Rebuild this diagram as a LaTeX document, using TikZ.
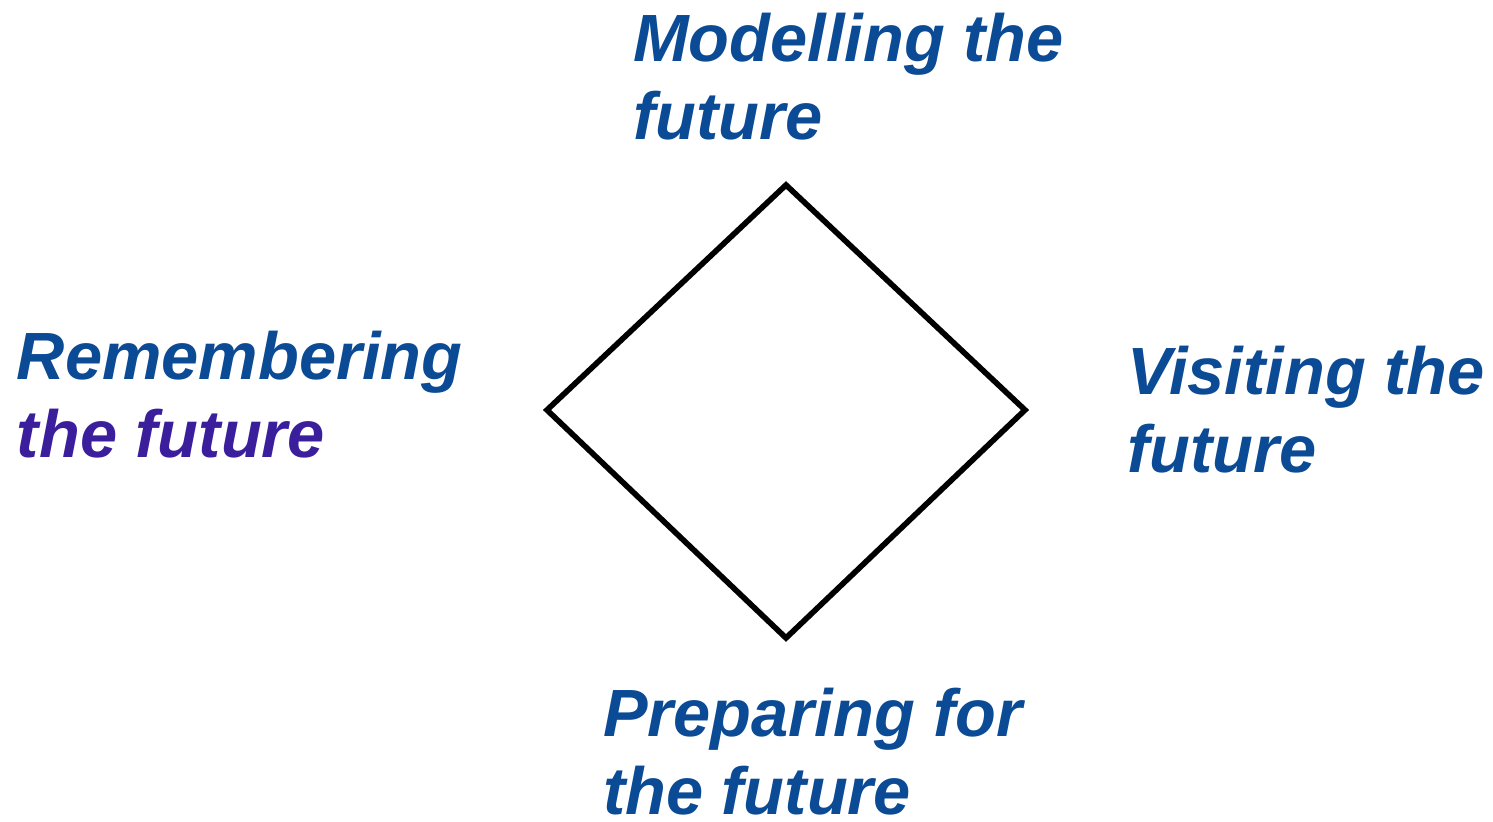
\documentclass[tikz,border=0pt]{standalone}
\usepackage{fontspec}
\setmainfont{Liberation Sans}
\definecolor{lblblue}{HTML}{0B4A94}
\definecolor{lblpurple}{HTML}{3A1E9C}
\begin{document}
\begin{tikzpicture}[x=0.01cm,y=-0.01cm,
  lbl/.style={inner sep=0pt, outer sep=0pt, align=left, anchor=base west,
    font=\fontsize{19}{22.2}\selectfont\bfseries\itshape, text=lblblue},
  edge/.style={line width=1.6pt, black, line join=miter}]
\useasboundingbox (0,0) rectangle (1493,822);
\coordinate (top) at (786,185);
\coordinate (right) at (1025,410);
\coordinate (bottom) at (786,638);
\coordinate (left) at (547,410);
\draw[edge] (top) -- (right) -- (bottom) -- (left) -- cycle;
\node[lbl] (model) at (633,140) {Modelling the\\future};
\node[lbl] (remember) at (17,458) {Remembering\\\textcolor{lblpurple}{the future}};
\node[lbl] (visit) at (1127,473) {Visiting the\\future};
\node[lbl] (prepare) at (603,815) {Preparing for\\the future};
\end{tikzpicture}
\end{document}
